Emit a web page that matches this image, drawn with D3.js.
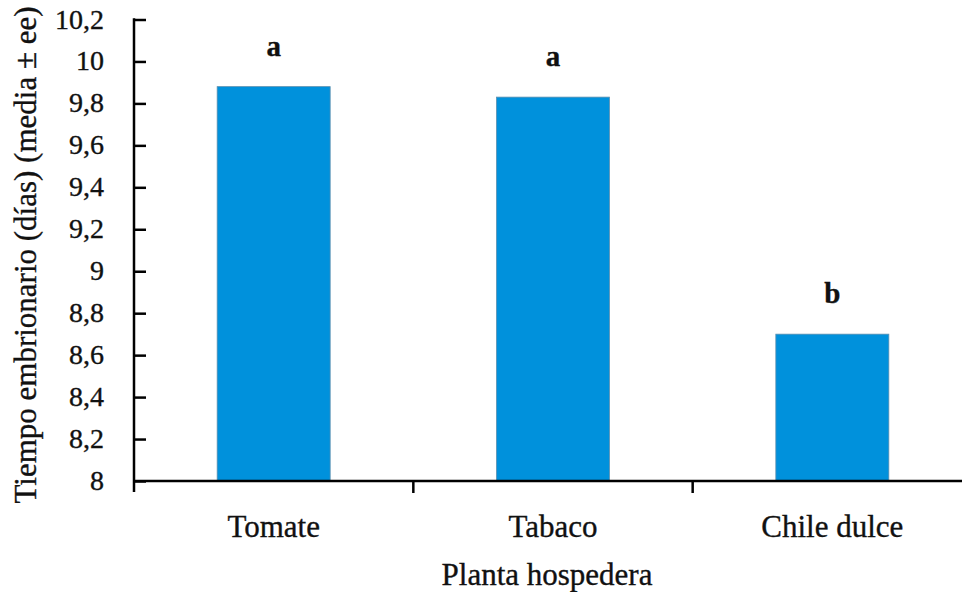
<!DOCTYPE html>
<html>
<head>
<meta charset="utf-8">
<script src="https://cdn.jsdelivr.net/npm/d3@7"></script>
<style>
body{margin:0;background:#fff;}
svg text{font-family:'Liberation Serif','DejaVu Serif',serif;fill:#111;stroke:#111;stroke-width:0.35px;}
</style>
</head>
<body>
<svg id="chart" width="962" height="592"></svg>
<script>
// data
var plantas=["Tomate","Tabaco","Chile dulce"];
var tiempos=[9.88,9.83,8.70];
var letras=["a","a","b"];
var yTicks=[8,8.2,8.4,8.6,8.8,9,9.2,9.4,9.6,9.8,10,10.2];

var svg=d3.select("#chart");
var x0=134, x1=972, yTop=19.5, yBot=481;

var x=d3.scaleBand().domain(plantas).range([x0,x1]);
var y=d3.scaleLinear().domain([8,10.2]).range([yBot,yTop]);
var barW=113;

function fmt(v){
	return d3.format("~g")(+v.toFixed(1)).replace(".",",");
}

// bars
svg.selectAll("rect.bar").data(tiempos).enter().append("rect")
	.attr("class","bar")
	.attr("x",function(d,i){return x(plantas[i])+x.bandwidth()/2-barW/2;})
	.attr("y",function(d){return y(d);})
	.attr("width",barW)
	.attr("height",function(d){return yBot-y(d);})
	.attr("fill","#0091dc").attr("stroke","#5a8fb0").attr("stroke-width",0.8);

// letters
svg.selectAll("text.letra").data(letras).enter().append("text")
	.attr("class","letra")
	.attr("x",function(d,i){return x(plantas[i])+x.bandwidth()/2;})
	.attr("y",function(d,i){return y(tiempos[i])-31;})
	.attr("text-anchor","middle").attr("font-size",29).attr("font-weight","bold")
	.text(function(d){return d;});

// y axis, ticks point inside
var yAxis=d3.axisRight(y).tickValues(yTicks).tickSize(12).tickFormat("");
var gy=svg.append("g").attr("transform","translate("+x0+",0)").call(yAxis);
gy.select(".domain").remove();
gy.selectAll(".tick line").attr("stroke","#000").attr("stroke-width",2.5);
svg.append("line").attr("x1",x0).attr("x2",x0).attr("y1",yTop-1.2).attr("y2",yBot+11)
	.attr("stroke","#000").attr("stroke-width",2.5);

svg.selectAll("text.ytick").data(yTicks).enter().append("text")
	.attr("class","ytick")
	.attr("x",104).attr("y",function(d){return y(d)+9;})
	.attr("text-anchor","end").attr("font-size",28)
	.text(fmt);

// x axis
svg.append("line").attr("x1",x0).attr("x2",x1).attr("y1",yBot).attr("y2",yBot)
	.attr("stroke","#000").attr("stroke-width",2.5);
svg.selectAll("line.xtick").data(plantas.slice(1)).enter().append("line")
	.attr("class","xtick")
	.attr("x1",function(d){return x(d);}).attr("x2",function(d){return x(d);})
	.attr("y1",yBot).attr("y2",yBot+12)
	.attr("stroke","#000").attr("stroke-width",2.5);

svg.selectAll("text.xlab").data(plantas).enter().append("text")
	.attr("class","xlab")
	.attr("x",function(d){return x(d)+x.bandwidth()/2;})
	.attr("y",537)
	.attr("text-anchor","middle").attr("font-size",31)
	.text(function(d){return d;});

svg.append("text").attr("x",547).attr("y",585)
	.attr("text-anchor","middle").attr("font-size",31)
	.text("Planta hospedera");

svg.append("text")
	.attr("transform","translate(36,255) rotate(-90)")
	.attr("text-anchor","middle").attr("font-size",31)
	.text("Tiempo embrionario (días) (media ± ee)");
</script>
</body>
</html>
